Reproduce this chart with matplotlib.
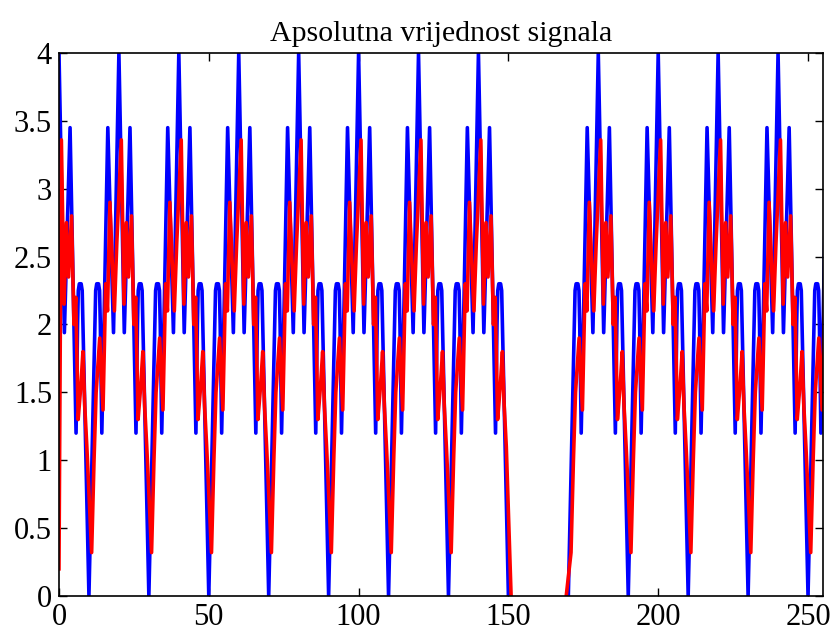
import numpy as np
import matplotlib.pyplot as plt
from matplotlib.ticker import FormatStrFormatter

# one period (20 samples) of |x|
period = 20
blue_u = [0, 1.8, 3.7, 5.7, 6.2, 6.45, 6.8, 7.4, 7.75, 8.0, 10.0,
          12.0, 12.25, 12.6, 13.2, 13.55, 13.8, 14.3, 16.3, 18.2]
blue_v = [4.0, 1.94, 3.45, 1.2, 2.0, 2.25, 2.3, 2.3, 2.25, 2.0, 0.0,
          2.0, 2.25, 2.3, 2.3, 2.25, 2.0, 1.2, 3.45, 1.94]

# filtered signal (red), same period, slightly delayed
red_u = [0.8, 1.7, 2.5, 3.2, 4.2, 5.0, 5.6, 6.4, 7.3, 8.0, 8.6, 9.3, 10.9,
         11.7, 12.4, 13.6, 14.7, 15.6, 16.2, 17.0, 17.8, 18.5, 19.3]
red_v = [3.36, 2.15, 2.75, 2.35, 2.8, 2.0, 2.2, 1.3, 1.55, 1.8, 1.4, 1.1, 0.32,
         1.0, 1.5, 1.9, 1.37, 2.3, 2.1, 2.9, 2.45, 2.1, 2.6]
red_start = 0.2

n_periods = 13
gap = (150, 170)  # signal is zero here
x_max = 255


def build(u, v, start=None):
    xs, ys = [], []
    if start is not None:
        xs.append(0.0)
        ys.append(start)
    for k in range(n_periods):
        for a, b in zip(u, v):
            xs.append(k * period + a)
            ys.append(b)
    xs = np.array(xs)
    ys = np.array(ys, dtype=float)
    inside = np.where((xs > gap[0]) & (xs < gap[1]))[0]
    ys[inside] = np.nan
    # the curve runs down to zero at the edges of the gap
    if xs[inside[0]] - gap[0] > 0.01 and not np.any(xs == gap[0]):
        ys[inside[0]] = 0.0
        ys[inside[-1]] = 0.0
    return xs, ys


xb, yb = build(blue_u, blue_v)
xr, yr = build(red_u, red_v, red_start)

plt.rcParams['font.family'] = ['Liberation Serif', 'DejaVu Serif']
fig = plt.figure(figsize=(8.33, 6.31), dpi=100)
ax = fig.add_axes([0.0708, 0.0555, 0.9172, 0.8605])
ax.plot(xb, yb, color='#0000ff', lw=2.6)
ax.plot(xr, yr, color='#ff0000', lw=2.6)
ax.set_xlim(0, x_max)
ax.set_ylim(0, 4)
ax.set_xticks([0, 50, 100, 150, 200, 250])
ax.set_yticks(np.arange(0, 4.01, 0.5))
ax.yaxis.set_major_formatter(FormatStrFormatter('%g'))
ax.tick_params(direction='in', top=True, right=True, length=6, width=1,
               labelsize=22, pad=5)
for s in ax.spines.values():
    s.set_linewidth(1.2)
ax.set_title('Apsolutna vrijednost signala', fontsize=21.5, pad=9)
fig.savefig('out.png', dpi=100)
